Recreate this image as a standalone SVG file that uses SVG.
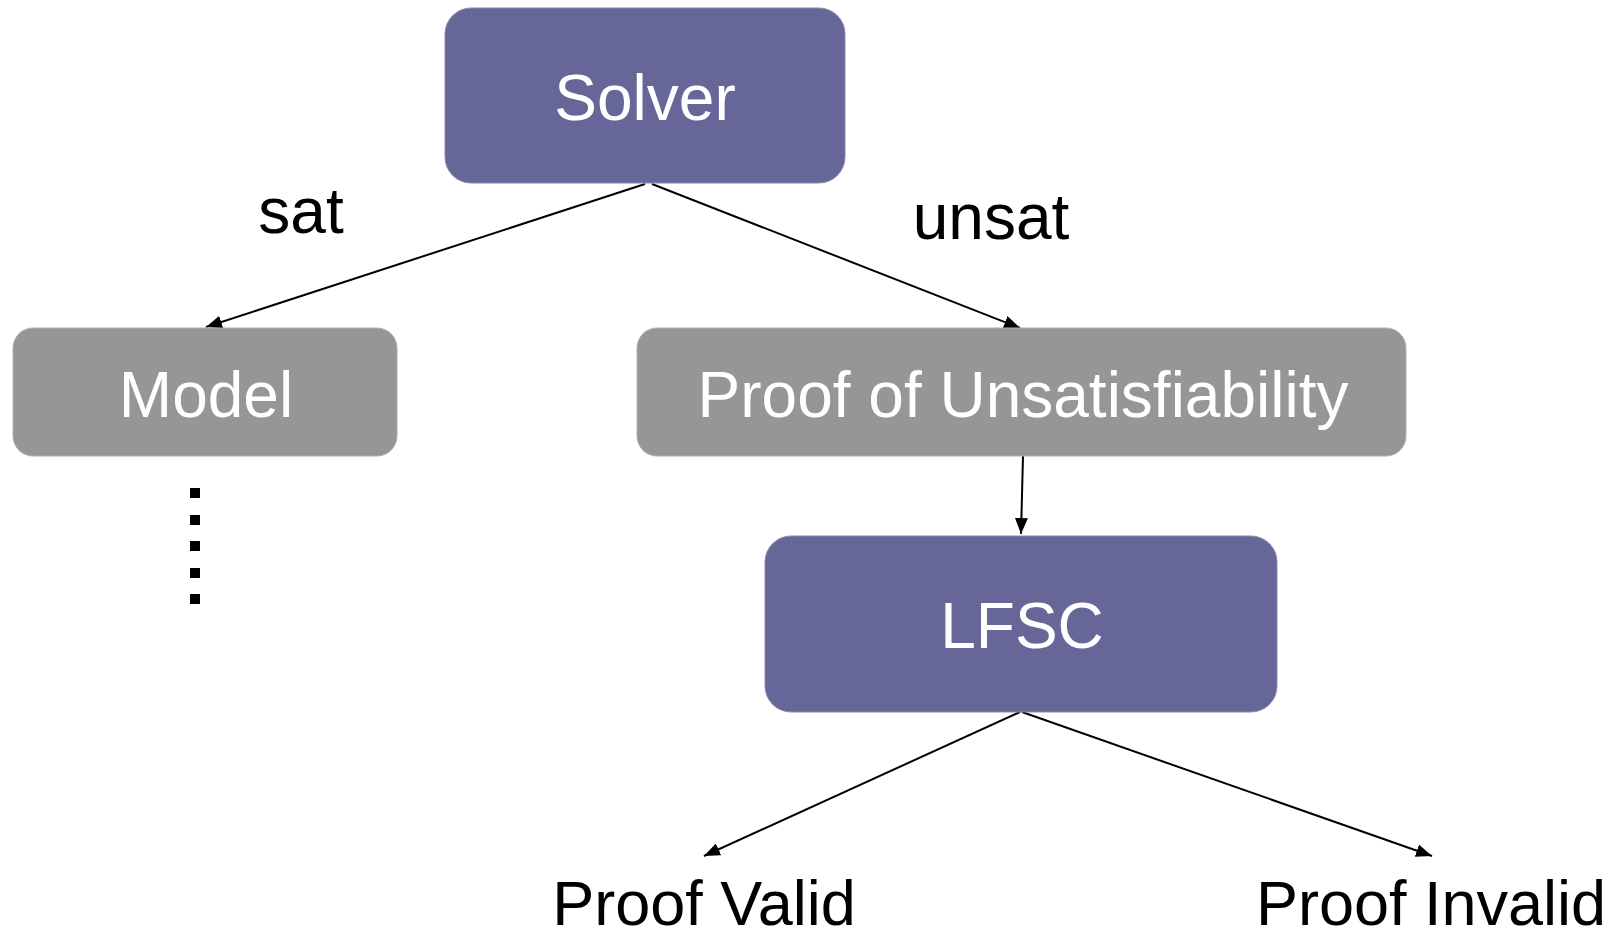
<svg xmlns="http://www.w3.org/2000/svg" width="1618" height="933" viewBox="0 0 1618 933">
<defs>
<style>
.purple{fill:#666699;stroke:#8a8ab0;stroke-width:1}
.gray{fill:#969696;stroke:#b0b0b0;stroke-width:1}
.lbl{font-family:"Liberation Sans",Arial,sans-serif;font-size:64px;text-anchor:middle}
.w{fill:#ffffff}
.k{fill:#000000}
.edge{stroke:#000;stroke-width:2;fill:none;marker-end:url(#arr)}
</style>
<marker id="arr" markerUnits="userSpaceOnUse" markerWidth="17" markerHeight="13" refX="16" refY="6.5" orient="auto">
<path d="M0,0 L16,6.5 L0,13 z" fill="#000"/>
</marker>
</defs>
<rect width="1618" height="933" fill="#fff"/>
<g id="connectors">
<line class="edge" x1="645" y1="184" x2="206" y2="327"/>
<line class="edge" x1="652" y1="184" x2="1020" y2="328"/>
<line class="edge" x1="1023" y1="456" x2="1021" y2="534"/>
<line class="edge" x1="1020" y1="712" x2="704" y2="856"/>
<line class="edge" x1="1022" y1="712" x2="1432" y2="856"/>
</g>
<g id="solver">
<rect class="purple" x="445" y="8" width="400" height="175" rx="26"/>
<text class="lbl w" x="645" y="120">Solver</text>
</g>
<g id="label-sat"><text class="lbl k" x="301" y="233">sat</text></g>
<g id="label-unsat"><text class="lbl k" x="991" y="239">unsat</text></g>
<g id="model">
<rect class="gray" x="13" y="328" width="384" height="128" rx="20"/>
<text class="lbl w" x="206" y="417">Model</text>
</g>
<g id="dots" fill="#000">
<rect x="190" y="488" width="10" height="10"/>
<rect x="190" y="515" width="10" height="10"/>
<rect x="190" y="541" width="10" height="10"/>
<rect x="190" y="568" width="10" height="10"/>
<rect x="190" y="594" width="10" height="10"/>
</g>
<g id="proof">
<rect class="gray" x="637" y="328" width="769" height="128" rx="20"/>
<text class="lbl w" x="1023" y="417">Proof of Unsatisfiability</text>
</g>
<g id="lfsc">
<rect class="purple" x="765" y="536" width="512" height="176" rx="26"/>
<text class="lbl w" x="1022" y="648">LFSC</text>
</g>
<g id="proof-valid"><text class="lbl k" x="704" y="925" style="font-size:63px">Proof Valid</text></g>
<g id="proof-invalid"><text class="lbl k" x="1431" y="925" style="font-size:63px">Proof Invalid</text></g>
</svg>
